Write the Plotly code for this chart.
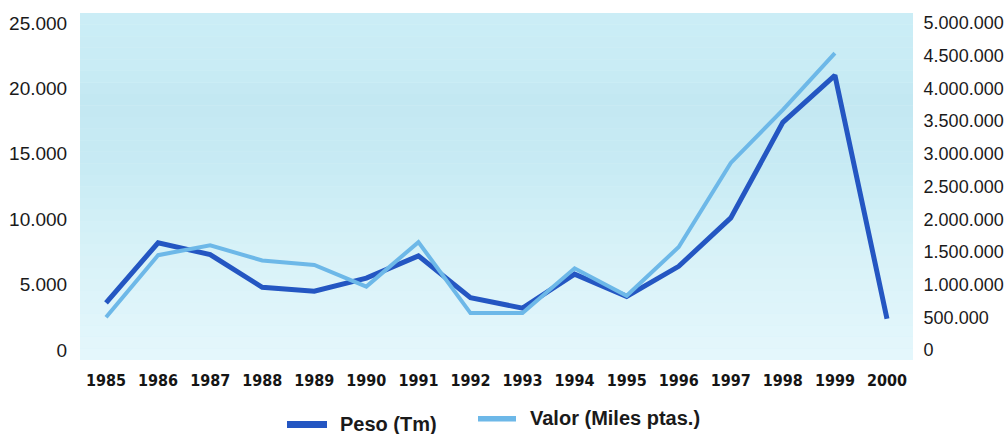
import plotly.graph_objects as go

years = list(range(1985, 2001))
peso_tm = [3600, 8200, 7300, 4800, 4500, 5500, 7200, 4000, 3200, 5800, 4100, 6400, 10100, 17400, 21000, 2400]
valor_miles = [500000, 1450000, 1600000, 1370000, 1300000, 970000, 1650000, 565000, 565000, 1250000, 830000, 1575000, 2860000, 3670000, 4540000, None]
left_ticks = [0, 5000, 10000, 15000, 20000, 25000]
right_ticks = [0, 500000, 1000000, 1500000, 2000000, 2500000, 3000000, 3500000, 4000000, 4500000, 5000000]
series_names = ["Peso (Tm)", "Valor (Miles ptas.)"]

DARK = "#2456c2"
LIGHT = "#6db8e8"

fig = go.Figure()
fig.add_trace(go.Scatter(x=years, y=valor_miles, yaxis="y2", mode="lines",
                         line=dict(color=LIGHT, width=4), name=series_names[1],
                         showlegend=False, connectgaps=False))
fig.add_trace(go.Scatter(x=years, y=peso_tm, mode="lines",
                         line=dict(color=DARK, width=5), name=series_names[0],
                         showlegend=False))

# background gradient bands (styling)
stops = [(0.0, (229, 247, 252)), (0.3, (216, 242, 248)), (0.55, (200, 235, 244)),
         (0.75, (195, 232, 242)), (0.85, (201, 236, 245)), (1.0, (203, 237, 246))]
def col(t):
    for (a, ca), (b, cb) in zip(stops[:-1], stops[1:]):
        if a <= t <= b:
            f = (t - a) / (b - a)
            return "rgb(%d,%d,%d)" % tuple(round(ca[i] + (cb[i] - ca[i]) * f) for i in range(3))
    return "rgb(%d,%d,%d)" % stops[-1][1]
n = 30
shapes = []
for i in range(n):
    y0 = i / n
    y1 = (i + 1) / n
    shapes.append(dict(type="rect", xref="x domain", yref="y domain", x0=0, x1=1, y0=y0, y1=y1,
                       fillcolor=col((y0 + y1) / 2), line=dict(width=0), layer="below"))

W, H = 1008, 434
ml, mr, mt, mb = 80, 95, 13, 74
pw, ph = W - ml - mr, H - mt - mb
def px(x):
    return (x - ml) / pw
def py(y):
    return (H - mb - y) / ph

# legend swatches
shapes.append(dict(type="rect", xref="paper", yref="paper", x0=px(287), x1=px(327), y0=py(428), y1=py(421),
                   fillcolor=DARK, line=dict(width=0)))
shapes.append(dict(type="rect", xref="paper", yref="paper", x0=px(478), x1=px(516), y0=py(421.5), y1=py(416),
                   fillcolor=LIGHT, line=dict(width=0)))

legend_font = dict(family="Liberation Sans, Arial, sans-serif", size=20, color="#1a1a1a", weight="bold")
annotations = [
    dict(xref="paper", yref="paper", x=px(338), y=py(424), text=series_names[0],
         showarrow=False, xanchor="left", yanchor="middle", font=legend_font),
    dict(xref="paper", yref="paper", x=px(528), y=py(418), text=series_names[1],
         showarrow=False, xanchor="left", yanchor="middle", font=legend_font),
]

fig.update_layout(
    width=W, height=H,
    margin=dict(l=ml, r=mr, t=mt, b=mb, pad=0, autoexpand=False),
    paper_bgcolor="white",
    plot_bgcolor="#d8f2f8",
    separators=",.",
    showlegend=False,
    shapes=shapes,
    annotations=annotations,
    xaxis=dict(range=[1984.5, 2000.5], tickvals=years, ticktext=[str(y) for y in years],
               showgrid=False, zeroline=False, showline=False, automargin=False, tickangle=0,
               ticks="outside", ticklen=6, tickcolor="rgba(0,0,0,0)",
               tickfont=dict(family="DejaVu Sans Condensed, Liberation Sans, sans-serif",
                             size=16, color="#151515", weight="bold")),
    yaxis=dict(range=[-760, 25760], tickvals=left_ticks, tickformat=",d",
               showgrid=False, zeroline=False, showline=False, automargin=False,
               ticks="outside", ticklen=8, tickcolor="rgba(0,0,0,0)",
               tickfont=dict(family="Liberation Sans, Arial, sans-serif", size=19, color="#1a1a1a")),
    yaxis2=dict(range=[-152000, 5152000], tickvals=right_ticks, tickformat=",d",
                overlaying="y", side="right", automargin=False,
                showgrid=False, zeroline=False, showline=False,
                ticks="outside", ticklen=6, tickcolor="rgba(0,0,0,0)",
                tickfont=dict(family="Liberation Sans, Arial, sans-serif", size=18, color="#1a1a1a")),
)

fig.write_html("out.html", post_script="document.body.style.margin='0';",
               config={"displayModeBar": False})
